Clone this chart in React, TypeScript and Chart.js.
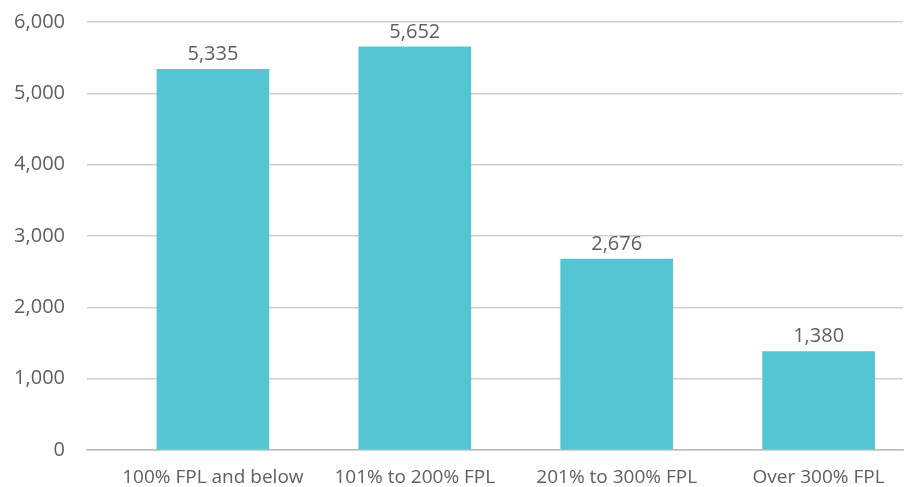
import React, { useEffect, useRef } from "react";
import { Chart, registerables } from "chart.js";

Chart.register(...registerables);

const categories = ["100% FPL and below", "101% to 200% FPL", "201% to 300% FPL", "Over 300% FPL"];
const values = [5335, 5652, 2676, 1380];
const yTicks = [0, 1000, 2000, 3000, 4000, 5000, 6000];

const textColor = "#5f5f5f";
const fontFamily = "'Open Sans', 'Noto Sans', sans-serif";

const dataLabels = {
  id: "dataLabels",
  afterDatasetsDraw(chart: any) {
    const ctx = chart.ctx;
    const meta = chart.getDatasetMeta(0);
    ctx.save();
    ctx.fillStyle = textColor;
    ctx.font = `20px ${fontFamily}`;
    ctx.textAlign = "center";
    ctx.textBaseline = "bottom";
    meta.data.forEach((bar: any, i: number) => {
      ctx.fillText(values[i].toLocaleString("en-US"), bar.x, bar.y - 5);
    });
    ctx.restore();
  },
};

export default function App() {
  const ref = useRef<HTMLCanvasElement>(null);
  useEffect(() => {
    document.body.style.margin = "0";
    const chart = new Chart(ref.current!, {
      type: "bar",
      data: {
        datasets: [
          {
            data: categories.map((c, i) => ({ x: i, y: values[i] })),
            backgroundColor: "#54c5d2",
            barThickness: 112,
          },
        ],
      },
      options: {
        animation: false,
        responsive: false,
        maintainAspectRatio: false,
        layout: { padding: { top: 22, right: 1, left: 0, bottom: 0 } },
        plugins: { legend: { display: false }, tooltip: { enabled: false } },
        scales: {
          x: {
            type: "linear",
            offset: false,
            min: -0.6236,
            max: 3.418,
            afterBuildTicks: (scale: any) => {
              scale.ticks = categories.map((c, i) => ({ value: i }));
            },
            afterFit: (scale: any) => {
              scale.height = 37;
              scale.paddingLeft = 0;
              scale.paddingRight = 0;
            },
            grid: { display: false },
            border: { display: true, color: "#bdbdbd", width: 1.5 },
            ticks: {
              color: textColor,
              font: { family: fontFamily, size: 19 },
              padding: 8,
              maxRotation: 0,
              autoSkip: false,
              callback: (v: any) => categories[v] ?? "",
            },
          },
          y: {
            min: 0,
            max: 6000,
            afterBuildTicks: (scale: any) => {
              scale.ticks = yTicks.map((v) => ({ value: v }));
            },
            afterFit: (scale: any) => {
              scale.width = 87;
              scale.paddingTop = 0;
              scale.paddingBottom = 0;
            },
            grid: { color: "#cfcfcf", lineWidth: 1.5, drawTicks: false },
            border: { display: false },
            ticks: {
              color: textColor,
              font: { family: fontFamily, size: 20 },
              padding: 22,
              callback: (v: any) => Number(v).toLocaleString("en-US"),
            },
          },
        },
      },
      plugins: [dataLabels],
    });
    return () => chart.destroy();
  }, []);
  return <canvas ref={ref} width={904} height={487} style={{ display: "block" }} />;
}
